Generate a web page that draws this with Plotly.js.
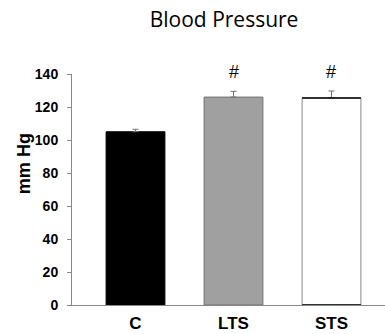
<!DOCTYPE html>
<html>
<head>
<meta charset="utf-8">
<script src="https://cdn.plot.ly/plotly-3.0.1.min.js"></script>
<style>html,body{margin:0;padding:0;background:#fff;}#chart{width:385px;height:334px;}</style>
</head>
<body>
<div id="chart"></div>
<script>
var categories = ["C", "LTS", "STS"];
var values = [105, 126, 125.5];
var errors = [1.5, 3.5, 4.2];
var marks = ["", "#", "#"];
var barColors = ["#000000", "#a0a0a0", "#ffffff"];
var edgeColors = ["#000000", "#707070", "#8a8a8a"];
var yTicks = [0, 20, 40, 60, 80, 100, 120, 140];
var yMax = 140;

var trace = {
  type: "bar",
  x: categories,
  y: values,
  width: 0.6,
  marker: {color: barColors, line: {color: edgeColors, width: 1}},
  error_y: {type: "data", array: errors, arrayminus: errors.map(function(){return 0;}), symmetric: false, color: "#707070", thickness: 1, width: 3},
  hoverinfo: "none"
};

var annotations = marks.map(function(m, i){
  return {x: categories[i], y: 141 / yMax, xref: "x", yref: "paper", text: m, showarrow: false,
    font: {family: "Liberation Sans, Arial, sans-serif", size: 18, color: "#000"}, yanchor: "middle"};
});
annotations.push({text: "mm Hg", xref: "paper", yref: "paper", x: -0.151, y: 0.613, xanchor: "center", yanchor: "middle",
  showarrow: false, textangle: -90, font: {family: "Liberation Sans, Arial, sans-serif", size: 18, color: "#000", weight: "bold"}});

var layout = {
  width: 385, height: 334,
  margin: {l: 72, r: 0, t: 73.5, b: 29, pad: 0},
  paper_bgcolor: "#fff", plot_bgcolor: "#fff",
  showlegend: false,
  title: {text: "Blood Pressure", x: 0.582, xanchor: "center", y: 0.94, yanchor: "middle",
    font: {family: "Open Sans, sans-serif", size: 21, color: "#000"}},
  xaxis: {type: "category", range: [-0.648, 2.546], showline: true, linecolor: "#888", linewidth: 1,
    ticks: "", showgrid: false, zeroline: false, fixedrange: true,
    tickfont: {family: "Liberation Sans, Arial, sans-serif", size: 17, color: "#000", weight: "bold"}, ticklabelstandoff: 3},
  yaxis: {range: [0, yMax], tickvals: yTicks, showline: true, linecolor: "#888", linewidth: 1,
    ticks: "outside", ticklen: 4, tickcolor: "#888", showgrid: false, zeroline: false, fixedrange: true,
    tickfont: {family: "Liberation Sans, Arial, sans-serif", size: 14, color: "#000", weight: "bold"}, ticklabelstandoff: 6},
  annotations: annotations,
  shapes: [
    {type: "line", xref: "x", yref: "y", x0: 2 - 0.3, x1: 2 + 0.3, y0: values[2], y1: values[2], line: {color: "#000", width: 1.5}},
    {type: "line", xref: "x", yref: "y", x0: 2 - 0.3, x1: 2 + 0.3, y0: 0, y1: 0, line: {color: "#000", width: 1.5}}
  ]
};

Plotly.newPlot("chart", [trace], layout, {staticPlot: true, displayModeBar: false});
</script>
</body>
</html>
